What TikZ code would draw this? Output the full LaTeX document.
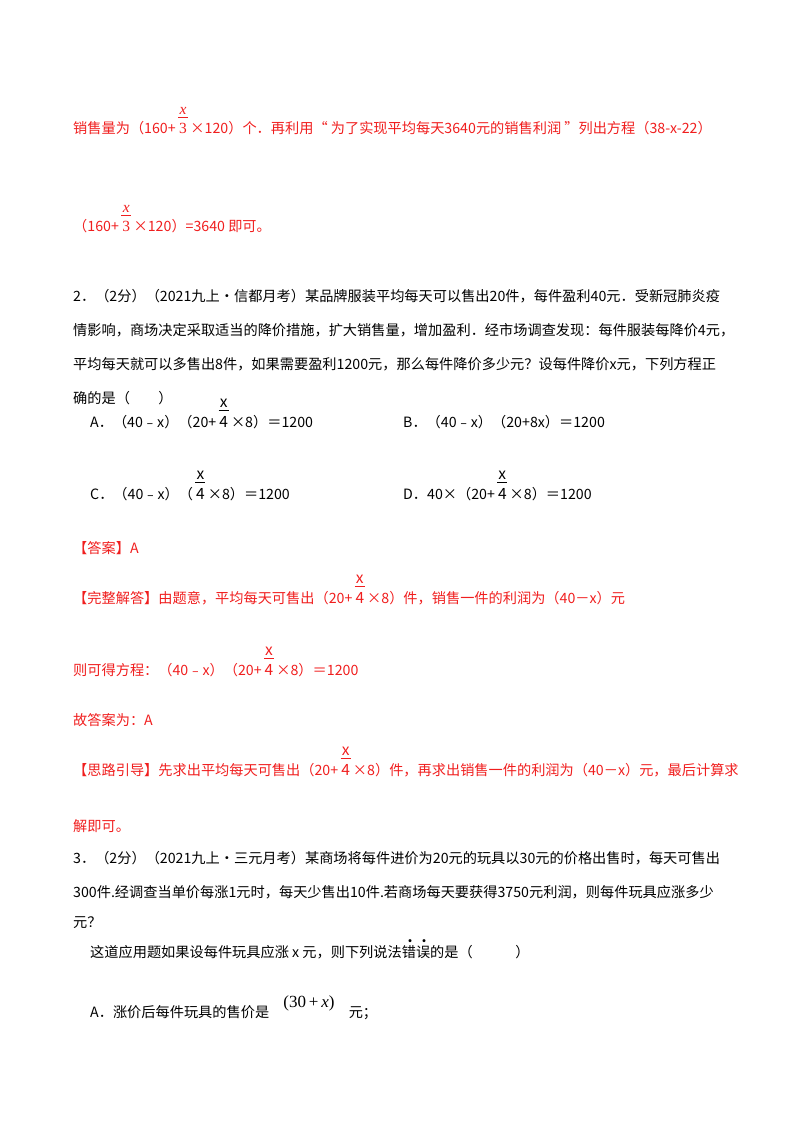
\documentclass[tikz,border=0pt]{standalone}
\usepackage{fontspec}
\setmainfont{Noto Sans CJK SC}
\newfontfamily\serif{Liberation Serif}
\definecolor{ans}{RGB}{240,30,30}
\newcommand{\fs}{\fontsize{15.5}{17}\selectfont}
\newcommand{\myfr}[2]{\,\shortstack[c]{\fs #1\\[0pt]\rule{10pt}{0.7pt}\\[2pt]\fs #2}\,}
\newcommand{\dotc}[1]{\rlap{\hspace{0.4em}\raisebox{1.05em}{\textbf{.}}}#1}
\begin{document}
\begin{tikzpicture}[x=1pt,y=1pt,
  t/.style={anchor=base west,inner sep=0pt,font=\fontsize{14.2}{16}\selectfont},
  r/.style={t,text=ans}]
\useasboundingbox (0,0) rectangle (800,-1132);
\node[r] (l1) at (73,-133) {销售量为（160+\myfr{\serif\textit{x}}{\serif 3}×120）个．再利用“ 为了实现平均每天3640元的销售利润 ”列出方程（38-x-22）};
\node[r] (l2) at (73,-231) {（160+\myfr{\serif\textit{x}}{\serif 3}×120）=3640 即可。};
\node[t] (q1) at (73,-301) {2．（2分）（2021九上·信都月考）某品牌服装平均每天可以售出20件，每件盈利40元．受新冠肺炎疫};
\node[t] (q2) at (73,-335) {情影响，商场决定采取适当的降价措施，扩大销售量，增加盈利．经市场调查发现：每件服装每降价4元，};
\node[t] (q3) at (73,-369) {平均每天就可以多售出8件，如果需要盈利1200元，那么每件降价多少元？设每件降价x元，下列方程正};
\node[t] (q4) at (73,-403) {确的是（　　）};
\node[t] (oa) at (90,-427) {A．（40﹣x）（20+\myfr{x}{4}×8）＝1200};
\node[t] (ob) at (403,-427) {B．（40﹣x）（20+8x）＝1200};
\node[t] (oc) at (90,-499) {C．（40﹣x）（\myfr{x}{4}×8）＝1200};
\node[t] (od) at (403,-499) {D．40×（20+\myfr{x}{4}×8）＝1200};
\node[r] (a1) at (73,-553) {【答案】A};
\node[r] (a2) at (73,-603) {【完整解答】由题意，平均每天可售出（20+\myfr{x}{4}×8）件，销售一件的利润为（40－x）元};
\node[r] (a3) at (73,-675) {则可得方程：（40﹣x）（20+\myfr{x}{4}×8）＝1200};
\node[r] (a4) at (73,-725) {故答案为：A};
\node[r] (a5) at (73,-775) {【思路引导】先求出平均每天可售出（20+\myfr{x}{4}×8）件，再求出销售一件的利润为（40－x）元，最后计算求};
\node[r] (a6) at (73,-831) {解即可。};
\node[t] (p1) at (73,-863) {3．（2分）（2021九上·三元月考）某商场将每件进价为20元的玩具以30元的价格出售时，每天可售出};
\node[t] (p2) at (73,-897) {300件.经调查当单价每涨1元时，每天少售出10件.若商场每天要获得3750元利润，则每件玩具应涨多少};
\node[t] (p3) at (73,-927) {元？};
\node[t] (p4) at (90,-957) {这道应用题如果设每件玩具应涨 x 元，则下列说法\dotc{错}\dotc{误}的是（　　　）};
\node[t] (p5) at (90,-1017) {A．涨价后每件玩具的售价是\quad\raisebox{10pt}{\serif\fontsize{17}{18}\selectfont(30\,+\,\textit{x})}\quad 元；};
\end{tikzpicture}
\end{document}
